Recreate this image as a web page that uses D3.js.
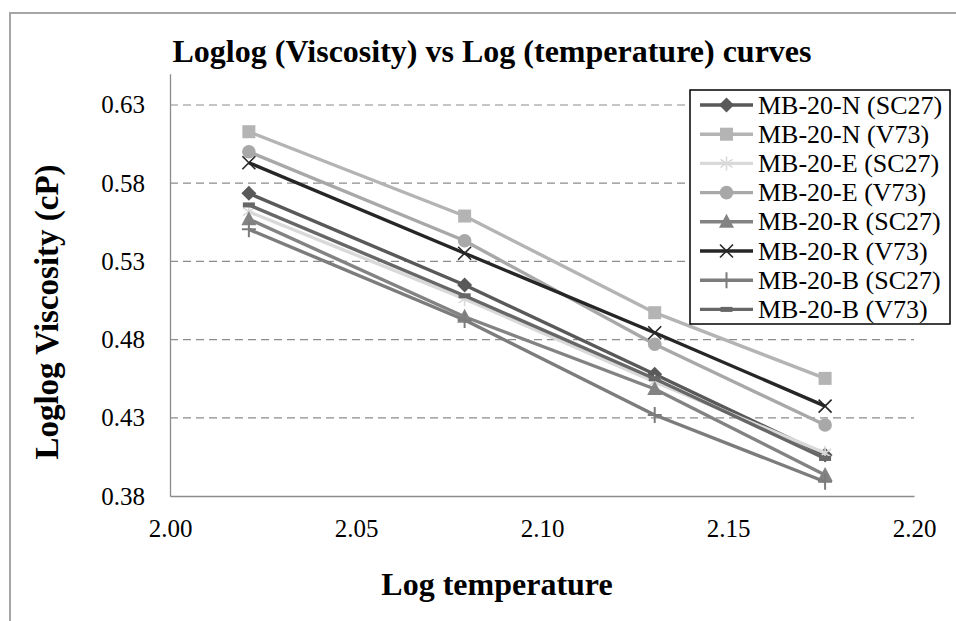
<!DOCTYPE html>
<html>
<head>
<meta charset="utf-8">
<script src="https://cdn.jsdelivr.net/npm/d3@7"></script>
<style>
  html, body { margin: 0; padding: 0; background: #fff; }
  svg text { font-family: 'Liberation Serif', 'Times New Roman', Times, serif; }
</style>
</head>
<body>
<svg id="chart" width="956" height="621"></svg>
<script>
// Log10 of the test temperatures (105, 120, 135, 150)
const logTemperature = [2.0212, 2.0792, 2.1303, 2.1761];

// Loglog viscosity for each binder / viscometer pairing
const mb20N_SC27 = [0.5735, 0.5149, 0.4578, 0.4062];
const mb20N_V73  = [0.6129, 0.5590, 0.4972, 0.4552];
const mb20E_SC27 = [0.5618, 0.5060, 0.4530, 0.4075];
const mb20E_V73  = [0.6001, 0.5432, 0.4770, 0.4254];
const mb20R_SC27 = [0.5570, 0.4946, 0.4484, 0.3934];
const mb20R_V73  = [0.5931, 0.5352, 0.4844, 0.4375];
const mb20B_SC27 = [0.5505, 0.4925, 0.4318, 0.3891];
const mb20B_V73  = [0.5661, 0.5080, 0.4550, 0.4040];

const seriesNames = [
  "MB-20-N (SC27)", "MB-20-N (V73)", "MB-20-E (SC27)", "MB-20-E (V73)",
  "MB-20-R (SC27)", "MB-20-R (V73)", "MB-20-B (SC27)", "MB-20-B (V73)"
];
const seriesValues = [mb20N_SC27, mb20N_V73, mb20E_SC27, mb20E_V73,
                      mb20R_SC27, mb20R_V73, mb20B_SC27, mb20B_V73];
const seriesColors = ["#595959", "#b4b4b4", "#d9d9d9", "#a8a8a8",
                      "#838383", "#262626", "#7c7c7c", "#676767"];
const seriesMarkers = ["diamond", "square", "asterisk", "circle",
                       "triangle", "cross", "plus", "dash"];

const yTicks = [0.38, 0.43, 0.48, 0.53, 0.58, 0.63];
const xTicks = [2.00, 2.05, 2.10, 2.15, 2.20];

const SERIF = "'Liberation Serif', 'Times New Roman', Times, serif";
const svg = d3.select("#chart");

const plot = { left: 170, right: 914, top: 73.7, bottom: 496 };
const x = d3.scaleLinear().domain([2.0, 2.2]).range([plot.left, plot.right]);
const y = d3.scaleLinear().domain([0.38, 0.65]).range([plot.bottom, plot.top]);

// outer chart frame (left and top edges)
svg.append("path")
  .attr("d", "M10,621 L10,13 L956,13")
  .attr("fill", "none")
  .attr("stroke", "#a6a6a6")
  .attr("stroke-width", 2);

// title
svg.append("text")
  .attr("x", 492).attr("y", 62)
  .attr("text-anchor", "middle")
  .style("font-family", SERIF)
  .style("font-size", "32px").style("font-weight", "bold")
  .text("Loglog (Viscosity) vs Log (temperature) curves");

// dashed gridlines
svg.append("g")
  .selectAll("line")
  .data(yTicks.filter(d => d > 0.38))
  .join("line")
  .attr("x1", plot.left).attr("x2", plot.right)
  .attr("y1", d => y(d)).attr("y2", d => y(d))
  .attr("stroke", "#8c8c8c")
  .attr("stroke-width", 1.2)
  .attr("stroke-dasharray", "8,5");

// axes
const yAxis = d3.axisLeft(y).tickValues(yTicks).tickFormat(d3.format(".2f"))
  .tickSize(0).tickPadding(25);
const xAxis = d3.axisBottom(x).tickValues(xTicks).tickFormat(d3.format(".2f"))
  .tickSize(0).tickPadding(23);

const gy = svg.append("g").attr("transform", `translate(${plot.left},0)`).call(yAxis);
const gx = svg.append("g").attr("transform", `translate(0,${plot.bottom})`).call(xAxis);
[gx, gy].forEach(g => {
  g.attr("font-family", null).attr("font-size", null);
  g.select(".domain").attr("stroke", "#8c8c8c").attr("stroke-width", 1.3);
  g.selectAll("text")
    .style("font-family", SERIF).style("font-size", "25px")
    .attr("fill", "#000");
});

// axis titles
svg.append("text")
  .attr("transform", `translate(58,312) rotate(-90)`)
  .attr("text-anchor", "middle")
  .style("font-family", SERIF)
  .style("font-size", "33px").style("font-weight", "bold")
  .text("Loglog Viscosity (cP)");

svg.append("text")
  .attr("x", 497).attr("y", 595)
  .attr("text-anchor", "middle")
  .style("font-family", SERIF)
  .style("font-size", "32px").style("font-weight", "bold")
  .text("Log temperature");

// marker drawing
function drawMarker(g, type, color) {
  switch (type) {
    case "diamond":
      g.append("path").attr("d", "M0,-7.5L7.5,0L0,7.5L-7.5,0Z").attr("fill", color);
      break;
    case "square":
      g.append("rect").attr("x", -6.5).attr("y", -6.5).attr("width", 13).attr("height", 13).attr("fill", color);
      break;
    case "asterisk":
      g.append("path").attr("d", "M0,-7V7M-6,-4L6,4M-6,4L6,-4")
        .attr("stroke", color).attr("stroke-width", 1.6).attr("fill", "none");
      break;
    case "circle":
      g.append("circle").attr("r", 6.8).attr("fill", color);
      break;
    case "triangle":
      g.append("path").attr("d", "M0,-8L7.5,6L-7.5,6Z").attr("fill", color);
      break;
    case "cross":
      g.append("path").attr("d", "M-6.5,-6.5L6.5,6.5M-6.5,6.5L6.5,-6.5")
        .attr("stroke", color).attr("stroke-width", 1.6).attr("fill", "none");
      break;
    case "plus":
      g.append("path").attr("d", "M0,-8V8M-7,0H7")
        .attr("stroke", color).attr("stroke-width", 2).attr("fill", "none");
      break;
    case "dash":
      g.append("rect").attr("x", -6).attr("y", -2.5).attr("width", 12).attr("height", 5).attr("fill", color);
      break;
  }
}

// series lines and markers
const line = d3.line().x((d, i) => x(logTemperature[i])).y(d => y(d));
const seriesG = svg.append("g");
seriesValues.forEach((vals, s) => {
  const g = seriesG.append("g");
  g.append("path")
    .attr("d", line(vals))
    .attr("fill", "none")
    .attr("stroke", seriesColors[s])
    .attr("stroke-width", 3.4)
    .attr("stroke-linejoin", "round");
  vals.forEach((v, i) => {
    const m = g.append("g").attr("transform", `translate(${x(logTemperature[i])},${y(v)})`);
    drawMarker(m, seriesMarkers[s], seriesColors[s]);
  });
});

// legend
const legend = svg.append("g");
legend.append("rect")
  .attr("x", 690).attr("y", 90).attr("width", 260).attr("height", 234)
  .attr("fill", "#fff").attr("stroke", "#000").attr("stroke-width", 1.5);
seriesNames.forEach((name, s) => {
  const cy = 105 + s * 29.2;
  legend.append("line")
    .attr("x1", 700).attr("x2", 753).attr("y1", cy).attr("y2", cy)
    .attr("stroke", seriesColors[s]).attr("stroke-width", 3.4);
  const m = legend.append("g").attr("transform", `translate(726.5,${cy})`);
  drawMarker(m, seriesMarkers[s], seriesColors[s]);
  legend.append("text")
    .attr("x", 758).attr("y", cy + 8.5)
    .style("font-family", SERIF).style("font-size", "26px")
    .attr("fill", "#000")
    .text(name);
});
</script>
</body>
</html>
